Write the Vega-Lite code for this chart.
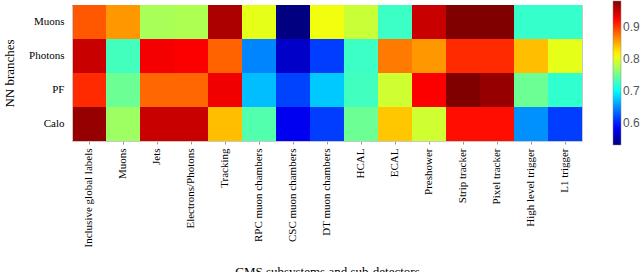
{
  "$schema": "https://vega.github.io/schema/vega-lite/v6.json",
  "width": 510,
  "height": 136,
  "autosize": {"type": "none"},
  "padding": {"left": 72, "top": 5, "right": 58, "bottom": 131},
  "background": "white",
  "config": {
    "view": {"stroke": "#c8c8c8", "strokeWidth": 1},
    "axis": {"labelFont": "Liberation Serif", "titleFont": "Liberation Serif", "labelColor": "black", "titleColor": "black", "titleFontWeight": "normal"}
  },
  "data": {
    "values": [
      {"branch": "Muons", "subsystem": "Inclusive global labels", "v": 0.885},
      {"branch": "Muons", "subsystem": "Muons", "v": 0.857},
      {"branch": "Muons", "subsystem": "Jets", "v": 0.773},
      {"branch": "Muons", "subsystem": "Electrons/Photons", "v": 0.775},
      {"branch": "Muons", "subsystem": "Tracking", "v": 0.961},
      {"branch": "Muons", "subsystem": "RPC muon chambers", "v": 0.8},
      {"branch": "Muons", "subsystem": "CSC muon chambers", "v": 0.53},
      {"branch": "Muons", "subsystem": "DT muon chambers", "v": 0.805},
      {"branch": "Muons", "subsystem": "HCAL", "v": 0.787},
      {"branch": "Muons", "subsystem": "ECAL", "v": 0.725},
      {"branch": "Muons", "subsystem": "Preshower", "v": 0.948},
      {"branch": "Muons", "subsystem": "Strip tracker", "v": 0.98},
      {"branch": "Muons", "subsystem": "Pixel tracker", "v": 0.98},
      {"branch": "Muons", "subsystem": "High level trigger", "v": 0.722},
      {"branch": "Muons", "subsystem": "L1 trigger", "v": 0.722},
      {"branch": "Photons", "subsystem": "Inclusive global labels", "v": 0.948},
      {"branch": "Photons", "subsystem": "Muons", "v": 0.728},
      {"branch": "Photons", "subsystem": "Jets", "v": 0.928},
      {"branch": "Photons", "subsystem": "Electrons/Photons", "v": 0.925},
      {"branch": "Photons", "subsystem": "Tracking", "v": 0.88},
      {"branch": "Photons", "subsystem": "RPC muon chambers", "v": 0.645},
      {"branch": "Photons", "subsystem": "CSC muon chambers", "v": 0.562},
      {"branch": "Photons", "subsystem": "DT muon chambers", "v": 0.613},
      {"branch": "Photons", "subsystem": "HCAL", "v": 0.725},
      {"branch": "Photons", "subsystem": "ECAL", "v": 0.87},
      {"branch": "Photons", "subsystem": "Preshower", "v": 0.857},
      {"branch": "Photons", "subsystem": "Strip tracker", "v": 0.905},
      {"branch": "Photons", "subsystem": "Pixel tracker", "v": 0.905},
      {"branch": "Photons", "subsystem": "High level trigger", "v": 0.84},
      {"branch": "Photons", "subsystem": "L1 trigger", "v": 0.8},
      {"branch": "PF", "subsystem": "Inclusive global labels", "v": 0.905},
      {"branch": "PF", "subsystem": "Muons", "v": 0.746},
      {"branch": "PF", "subsystem": "Jets", "v": 0.878},
      {"branch": "PF", "subsystem": "Electrons/Photons", "v": 0.878},
      {"branch": "PF", "subsystem": "Tracking", "v": 0.93},
      {"branch": "PF", "subsystem": "RPC muon chambers", "v": 0.67},
      {"branch": "PF", "subsystem": "CSC muon chambers", "v": 0.616},
      {"branch": "PF", "subsystem": "DT muon chambers", "v": 0.675},
      {"branch": "PF", "subsystem": "HCAL", "v": 0.727},
      {"branch": "PF", "subsystem": "ECAL", "v": 0.79},
      {"branch": "PF", "subsystem": "Preshower", "v": 0.925},
      {"branch": "PF", "subsystem": "Strip tracker", "v": 0.98},
      {"branch": "PF", "subsystem": "Pixel tracker", "v": 0.97},
      {"branch": "PF", "subsystem": "High level trigger", "v": 0.746},
      {"branch": "PF", "subsystem": "L1 trigger", "v": 0.72},
      {"branch": "Calo", "subsystem": "Inclusive global labels", "v": 0.97},
      {"branch": "Calo", "subsystem": "Muons", "v": 0.768},
      {"branch": "Calo", "subsystem": "Jets", "v": 0.948},
      {"branch": "Calo", "subsystem": "Electrons/Photons", "v": 0.948},
      {"branch": "Calo", "subsystem": "Tracking", "v": 0.84},
      {"branch": "Calo", "subsystem": "RPC muon chambers", "v": 0.735},
      {"branch": "Calo", "subsystem": "CSC muon chambers", "v": 0.58},
      {"branch": "Calo", "subsystem": "DT muon chambers", "v": 0.613},
      {"branch": "Calo", "subsystem": "HCAL", "v": 0.746},
      {"branch": "Calo", "subsystem": "ECAL", "v": 0.836},
      {"branch": "Calo", "subsystem": "Preshower", "v": 0.79},
      {"branch": "Calo", "subsystem": "Strip tracker", "v": 0.918},
      {"branch": "Calo", "subsystem": "Pixel tracker", "v": 0.918},
      {"branch": "Calo", "subsystem": "High level trigger", "v": 0.65},
      {"branch": "Calo", "subsystem": "L1 trigger", "v": 0.613}
    ]
  },
  "mark": {"type": "rect", "strokeWidth": 0},
  "encoding": {
    "x": {
      "field": "subsystem",
      "type": "nominal",
      "sort": null,
      "scale": {"paddingInner": 0, "paddingOuter": 0},
      "axis": {
        "title": "CMS subsystems and sub-detectors",
        "labelAngle": -90,
        "labelAlign": "right",
        "labelBaseline": "middle",
        "labelFontSize": 11,
        "labelPadding": 4,
        "tickSize": 3,
        "tickColor": "#999",
        "domainColor": "#c8c8c8",
        "titleFontSize": 13,
        "titleBaseline": "top",
        "titleX": 255,
        "titleY": 124
      }
    },
    "y": {
      "field": "branch",
      "type": "nominal",
      "sort": ["Muons", "Photons", "PF", "Calo"],
      "scale": {"paddingInner": 0, "paddingOuter": 0},
      "axis": {
        "title": "NN branches",
        "ticks": false,
        "labelFontSize": 11,
        "labelPadding": 8,
        "domainColor": "#c8c8c8",
        "titleFontSize": 13,
        "titleAngle": -90,
        "titleBaseline": "alphabetic",
        "titleAlign": "center",
        "titleX": -58.5,
        "titleY": 68
      }
    },
    "color": {
      "field": "v",
      "type": "quantitative",
      "scale": {
        "domain": [0.53, 0.58625, 0.69875, 0.81125, 0.92375, 0.98],
        "range": ["#000080", "#0000ff", "#00ffff", "#ffff00", "#ff0000", "#800000"],
        "interpolate": "rgb"
      },
      "legend": {
        "title": null,
        "orient": "none",
        "legendX": 541,
        "legendY": -4,
        "direction": "vertical",
        "gradientLength": 144,
        "gradientThickness": 8,
        "gradientStrokeColor": "#888",
        "gradientStrokeWidth": 0.5,
        "values": [0.6, 0.7, 0.8, 0.9],
        "labelFont": "Liberation Sans",
        "labelFontSize": 12,
        "labelColor": "#555",
        "labelOffset": 2,
        "padding": 0
      }
    }
  }
}
